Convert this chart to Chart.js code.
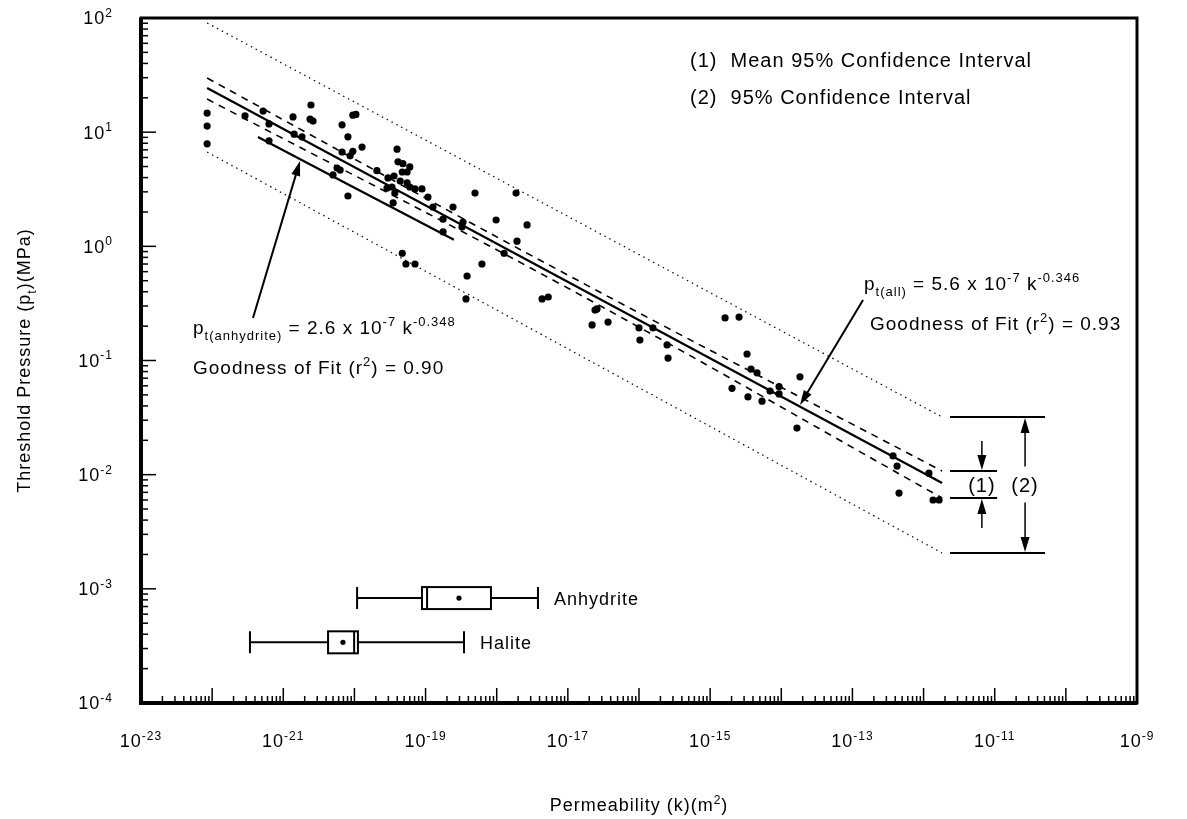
<!DOCTYPE html>
<html>
<head>
<meta charset="utf-8">
<script src="https://cdn.jsdelivr.net/npm/chart.js@4.4.0/dist/chart.umd.min.js"></script>
<style>
  html, body { margin: 0; padding: 0; background: #fff; }
  #wrap { width: 1187px; height: 819px; }
</style>
</head>
<body>
<div id="wrap"><canvas id="chart" width="1187" height="819"></canvas></div>
<script>
// Measured samples: permeability k (m2) and threshold pressure pt (MPa)
const permeability = [
  8.5e-23, 8.5e-23, 8.5e-23, 2.9e-22, 5.2e-22, 6.3e-22, 6.3e-22, 1.37e-21, 1.42e-21, 1.83e-21,
  2.45e-21, 2.38e-21, 2.62e-21, 6.7e-21, 8.1e-21, 9.5e-21, 1.05e-20, 6.7e-21, 8.7e-21, 9.5e-21,
  1.28e-20, 2.07e-20, 3.97e-20, 4.1e-20, 4.8e-20, 6.0e-20, 5.5e-20, 4.7e-20, 2.96e-20, 3.6e-20,
  4.4e-20, 5.5e-20, 6.0e-20, 2.87e-20, 3.37e-20, 3.7e-20, 7.1e-20, 8.9e-20, 1.08e-19, 8.1e-21,
  5.0e-21, 5.7e-21, 6.3e-21, 3.5e-20, 1.27e-19, 2.43e-19, 1.76e-19, 3.36e-19, 3.25e-19, 1.76e-19,
  4.95e-19, 1.87e-18, 9.8e-19, 2.67e-18, 1.93e-18, 1.27e-18, 6.2e-19, 4.7e-20, 5.3e-20, 7.1e-20,
  3.83e-19, 3.7e-19, 4.34e-18, 5.3e-18, 2.41e-17, 2.57e-17, 2.19e-17, 3.67e-17, 1.0e-16, 1.57e-16,
  1.03e-16, 2.48e-16, 2.56e-16, 1.62e-15, 2.55e-15, 3.3e-15, 3.76e-15, 4.56e-15, 6.95e-15, 9.3e-15,
  9.3e-15, 1.83e-14, 2.03e-15, 3.4e-15, 5.36e-15, 1.66e-14, 3.72e-13, 4.24e-13, 1.19e-12, 4.52e-13,
  1.36e-12, 1.65e-12
];
const thresholdPressure = [
  14.7, 11.3, 7.9, 13.9, 15.3, 11.8, 8.4, 13.6, 9.6, 9.1,
  17.3, 13.0, 12.5, 11.6, 9.1, 14.1, 14.3, 6.7, 6.2, 6.8,
  7.4, 4.6, 7.1, 5.5, 5.3, 4.96, 4.48, 4.48, 3.97, 4.13,
  3.73, 3.59, 3.31, 3.24, 3.31, 2.93, 3.18, 3.18, 2.70, 2.76,
  4.22, 4.85, 4.66, 2.40, 2.21, 2.21, 1.73, 1.63, 1.48, 1.34,
  2.93, 2.93, 1.70, 1.54, 1.11, 0.87, 0.70, 0.87, 0.70, 0.70,
  0.55, 0.346, 0.346, 0.36, 0.277, 0.283, 0.205, 0.217, 0.193, 0.193,
  0.151, 0.137, 0.105, 0.236, 0.240, 0.114, 0.084, 0.078, 0.054, 0.059,
  0.051, 0.072, 0.057, 0.048, 0.044, 0.0256, 0.0146, 0.0119, 0.0103, 0.0069,
  0.0060, 0.0060
];

// fit through all samples (solid), read at its two ends
const fitAllK = [8.5e-23, 1.82e-12];
const fitAllP = [24.4, 0.00845];
// mean 95% confidence interval (dashed)
const meanBandK = [8.5e-23, 7.8e-18, 1.82e-12];
const meanUpperP = [29.8, 0.608, 0.01077];
const meanLowerP = [19.5, 0.468, 0.00625];
// 95% confidence interval (dotted)
const bandK = [8.5e-23, 1.82e-12];
const bandUpperP = [90.4, 0.032];
const bandLowerP = [6.7, 0.00206];
// fit through anhydrite samples only
const fitAnhK = [4.4e-22, 2.5e-19];
const fitAnhP = [9.07, 1.14];

// permeability ranges drawn as box plots
const boxNames = ["Anhydrite", "Halite"];
const boxLevel = [8.3e-4, 3.4e-4];
const boxMin = [1.09e-20, 3.4e-22];
const boxQ1 = [8.9e-20, 4.26e-21];
const boxMedian = [1.05e-19, 9.9e-21];
const boxQ3 = [8.3e-19, 1.12e-20];
const boxMax = [3.8e-18, 3.47e-19];
const boxMean = [2.95e-19, 6.9e-21];

// tick labels (powers of ten)
const xTickExps = [-23, -21, -19, -17, -15, -13, -11, -9];
const yTickExps = [2, 1, 0, -1, -2, -3, -4];

const FONT = "'Liberation Sans', Arial, sans-serif";

function pairs(xs, ys) {
  return xs.map((v, i) => ({ x: v, y: ys[i] }));
}

function lineSet(data, dash, width) {
  return {
    type: "line", data: data, borderColor: "#000", borderWidth: width,
    borderDash: dash, pointRadius: 0, fill: false, tension: 0.4
  };
}

// draw text made of normal / superscript / subscript pieces
function richText(ctx, x, y, parts, size, align) {
  const small = Math.round(size * 0.68);
  let total = 0;
  parts.forEach(([t, m]) => {
    ctx.font = (m ? small : size) + "px " + FONT;
    total += ctx.measureText(t).width;
  });
  let cx = align === "center" ? x - total / 2 : align === "right" ? x - total : x;
  ctx.textAlign = "left";
  ctx.textBaseline = "alphabetic";
  const base = y + size * 0.36;
  parts.forEach(([t, m]) => {
    ctx.font = (m ? small : size) + "px " + FONT;
    const dy = m === 1 ? -size * 0.42 : m === -1 ? size * 0.3 : 0;
    ctx.fillText(t, cx, base + dy);
    cx += ctx.measureText(t).width;
  });
}

function arrow(ctx, x1, y1, x2, y2) {
  const ang = Math.atan2(y2 - y1, x2 - x1);
  const len = 15, half = 4.5;
  ctx.beginPath();
  ctx.moveTo(x1, y1);
  ctx.lineTo(x2 - Math.cos(ang) * len * 0.8, y2 - Math.sin(ang) * len * 0.8);
  ctx.stroke();
  ctx.beginPath();
  ctx.moveTo(x2, y2);
  ctx.lineTo(x2 - Math.cos(ang) * len - Math.sin(ang) * half, y2 - Math.sin(ang) * len + Math.cos(ang) * half);
  ctx.lineTo(x2 - Math.cos(ang) * len + Math.sin(ang) * half, y2 - Math.sin(ang) * len - Math.cos(ang) * half);
  ctx.closePath();
  ctx.fill();
}

const decor = {
  id: "decor",
  afterDraw(chart) {
    const { ctx, chartArea: a, scales: { x, y } } = chart;
    ctx.save();
    ctx.strokeStyle = "#000";
    ctx.fillStyle = "#000";
    ctx.setLineDash([]);
    if ("letterSpacing" in ctx) ctx.letterSpacing = "1px";

    // frame
    ctx.lineWidth = 3;
    ctx.strokeRect(a.left, a.top, a.right - a.left, a.bottom - a.top);
    ctx.lineWidth = 4;
    ctx.beginPath();
    ctx.moveTo(a.left, a.top); ctx.lineTo(a.left, a.bottom); ctx.lineTo(a.right, a.bottom);
    ctx.stroke();

    // ticks, pointing inwards from the bottom and left edges
    ctx.lineWidth = 1.5;
    for (let e = -23; e < -9; e++) {
      for (let m = 1; m <= 9; m++) {
        const px = x.getPixelForValue(m * Math.pow(10, e));
        const len = m === 1 ? 15 : 7;
        ctx.beginPath();
        ctx.moveTo(px, a.bottom); ctx.lineTo(px, a.bottom - len);
        ctx.stroke();
      }
    }
    for (let e = -4; e < 2; e++) {
      for (let m = 1; m <= 9; m++) {
        const py = y.getPixelForValue(m * Math.pow(10, e));
        const len = m === 1 ? 15 : 7;
        ctx.beginPath();
        ctx.moveTo(a.left, py); ctx.lineTo(a.left + len, py);
        ctx.stroke();
      }
    }

    // tick labels
    xTickExps.forEach(e => {
      richText(ctx, x.getPixelForValue(Math.pow(10, e)), a.bottom + 38,
        [["10", 0], [String(e), 1]], 18, "center");
    });
    yTickExps.forEach(e => {
      richText(ctx, a.left - 28, y.getPixelForValue(Math.pow(10, e)),
        [["10", 0], [String(e), 1]], 18, "right");
    });

    // axis titles
    richText(ctx, (a.left + a.right) / 2, 805,
      [["Permeability (k)(m", 0], ["2", 1], [")", 0]], 18, "center");
    ctx.save();
    ctx.translate(24, (a.top + a.bottom) / 2);
    ctx.rotate(-Math.PI / 2);
    richText(ctx, 0, 0, [["Threshold Pressure (p", 0], ["t", -1], [")(MPa)", 0]], 18, "center");
    ctx.restore();

    // box plots
    boxNames.forEach((name, i) => {
      const yc = y.getPixelForValue(boxLevel[i]);
      const h = 11;
      const lo = x.getPixelForValue(boxMin[i]), q1 = x.getPixelForValue(boxQ1[i]);
      const md = x.getPixelForValue(boxMedian[i]), q3 = x.getPixelForValue(boxQ3[i]);
      const hi = x.getPixelForValue(boxMax[i]), mn = x.getPixelForValue(boxMean[i]);
      ctx.lineWidth = 2;
      ctx.beginPath();
      ctx.moveTo(lo, yc); ctx.lineTo(q1, yc);
      ctx.moveTo(q3, yc); ctx.lineTo(hi, yc);
      ctx.moveTo(lo, yc - h); ctx.lineTo(lo, yc + h);
      ctx.moveTo(hi, yc - h); ctx.lineTo(hi, yc + h);
      ctx.moveTo(md, yc - h); ctx.lineTo(md, yc + h);
      ctx.stroke();
      ctx.strokeRect(q1, yc - h, q3 - q1, 2 * h);
      ctx.beginPath();
      ctx.arc(mn, yc, 2.6, 0, Math.PI * 2);
      ctx.fill();
      richText(ctx, hi + 16, yc, [[name, 0]], 18, "left");
    });

    // confidence interval brackets at the right end of the fit
    const bx0 = x.getPixelForValue(2.35e-12);
    const bx1 = x.getPixelForValue(1.08e-11);
    const bx2 = x.getPixelForValue(5.1e-11);
    const ax1 = x.getPixelForValue(6.6e-12);
    const ax2 = x.getPixelForValue(2.67e-11);
    const mU = y.getPixelForValue(meanUpperP[2]), mL = y.getPixelForValue(meanLowerP[2]);
    const bU = y.getPixelForValue(bandUpperP[1]), bL = y.getPixelForValue(bandLowerP[1]);
    const mid = (mU + mL) / 2;
    ctx.lineWidth = 2;
    ctx.beginPath();
    ctx.moveTo(bx0, mU); ctx.lineTo(bx1, mU);
    ctx.moveTo(bx0, mL); ctx.lineTo(bx1, mL);
    ctx.moveTo(bx0, bU); ctx.lineTo(bx2, bU);
    ctx.moveTo(bx0, bL); ctx.lineTo(bx2, bL);
    ctx.stroke();
    ctx.lineWidth = 1.5;
    arrow(ctx, ax1, mU - 30, ax1, mU - 1);
    arrow(ctx, ax1, mL + 30, ax1, mL + 1);
    arrow(ctx, ax2, mid - 18, ax2, bU + 1);
    arrow(ctx, ax2, mid + 18, ax2, bL - 1);
    richText(ctx, ax1, mid, [["(1)", 0]], 20, "center");
    richText(ctx, ax2, mid, [["(2)", 0]], 20, "center");

    // annotation arrows pointing at the fits
    ctx.lineWidth = 2;
    arrow(ctx, x.getPixelForValue(1.41e-13), y.getPixelForValue(0.339),
      x.getPixelForValue(1.83e-14), y.getPixelForValue(0.0407));
    arrow(ctx, x.getPixelForValue(3.75e-22), y.getPixelForValue(0.236),
      x.getPixelForValue(1.72e-21), y.getPixelForValue(5.6));

    // legend and equations
    richText(ctx, 690, 60, [["(1)  Mean 95% Confidence Interval", 0]], 20, "left");
    richText(ctx, 690, 97, [["(2)  95% Confidence Interval", 0]], 20, "left");
    richText(ctx, 864, 283, [["p", 0], ["t(all)", -1], [" = 5.6 x 10", 0], ["-7", 1], [" k", 0], ["-0.346", 1]], 19, "left");
    richText(ctx, 870, 323, [["Goodness of Fit (r", 0], ["2", 1], [") = 0.93", 0]], 19, "left");
    richText(ctx, 193, 327, [["p", 0], ["t(anhydrite)", -1], [" = 2.6 x 10", 0], ["-7", 1], [" k", 0], ["-0.348", 1]], 19, "left");
    richText(ctx, 193, 367, [["Goodness of Fit (r", 0], ["2", 1], [") = 0.90", 0]], 19, "left");
    ctx.restore();
  }
};

new Chart(document.getElementById("chart"), {
  type: "scatter",
  data: {
    datasets: [
      lineSet(pairs(bandK, bandUpperP), [1.5, 4], 1.2),
      lineSet(pairs(bandK, bandLowerP), [1.5, 4], 1.2),
      lineSet(pairs(meanBandK, meanUpperP), [7, 6], 1.6),
      lineSet(pairs(meanBandK, meanLowerP), [7, 6], 1.6),
      lineSet(pairs(fitAllK, fitAllP), [], 2.2),
      lineSet(pairs(fitAnhK, fitAnhP), [], 2.2),
      {
        type: "scatter",
        data: pairs(permeability, thresholdPressure),
        backgroundColor: "#000", borderColor: "#000",
        pointRadius: 3.6, pointHoverRadius: 3.6, borderWidth: 0
      }
    ]
  },
  options: {
    responsive: false,
    animation: false,
    devicePixelRatio: 1,
    layout: { padding: { left: 141, right: 50, top: 18, bottom: 116 } },
    plugins: { legend: { display: false }, tooltip: { enabled: false } },
    scales: {
      x: { type: "logarithmic", min: 1e-23, max: 1e-9, display: false },
      y: { type: "logarithmic", min: 1e-4, max: 1e2, display: false }
    }
  },
  plugins: [decor]
});
</script>
</body>
</html>
